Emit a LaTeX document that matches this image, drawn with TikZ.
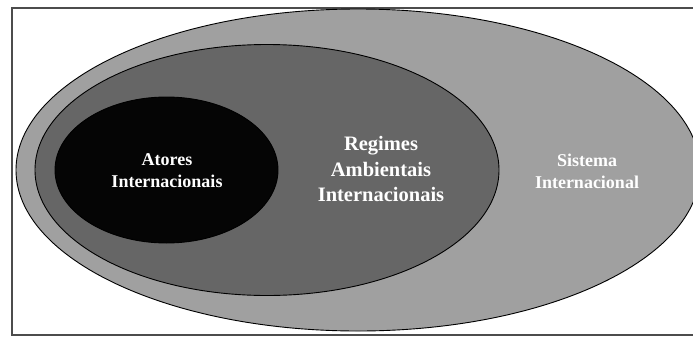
\documentclass[tikz,border=0pt]{standalone}
\usepackage{fontspec}
\setmainfont{Liberation Serif}
\definecolor{sysgray}{HTML}{A0A0A0}
\definecolor{reggray}{HTML}{666666}
\definecolor{atorblack}{HTML}{050505}
\begin{document}
\begin{tikzpicture}[x=1pt, y=-1pt,
    zone/.style={draw=black, line width=0.9pt},
    lbl/.style={align=center, text=white, inner sep=0pt,
                font=\bfseries\fontsize{18}{22}\selectfont}]
  \useasboundingbox (0,0) rectangle (693,338);
  \clip (0,0) rectangle (693,338);
  % frame
  \draw[line width=1.3pt, black!70] (12,8) rectangle (705,335);
  % nested sets
  \foreach \cx/\rx/\ry/\col in {358/342/161/sysgray,
                                 267/232/125.5/reggray,
                                 166.5/111.5/73/atorblack} {
    \filldraw[zone, fill=\col] (\cx,170) ellipse [x radius=\rx pt, y radius=\ry pt];
  }
  % labels
  \node[lbl] (atores) at (167,171) {Atores\\Internacionais};
  \node[lbl, font=\bfseries\fontsize{20.5}{25.5}\selectfont] (regimes) at (381,169)
    {Regimes\\Ambientais\\Internacionais};
  \node[lbl] (sistema) at (587,171) {Sistema\\Internacional};
\end{tikzpicture}
\end{document}
